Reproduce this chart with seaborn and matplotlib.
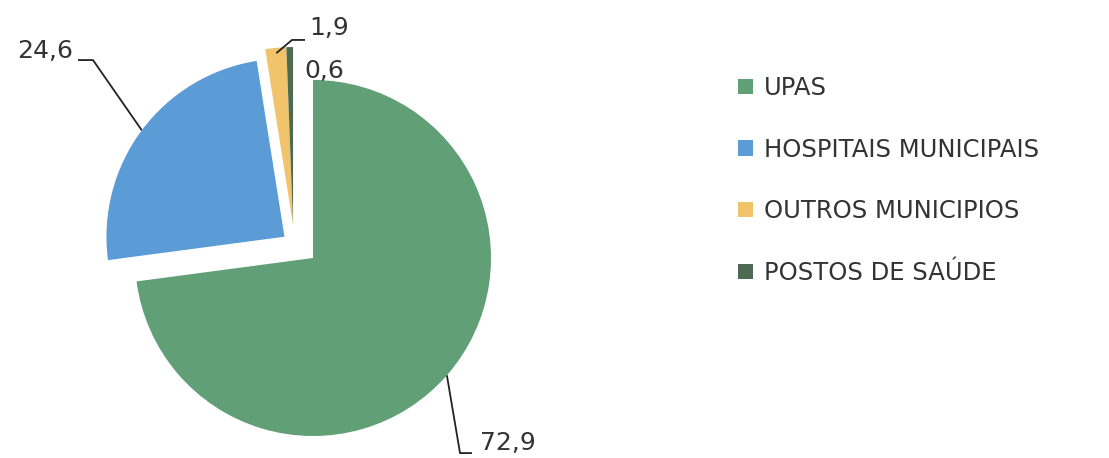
import numpy as np
import matplotlib
matplotlib.use("Agg")
import matplotlib.pyplot as plt
import seaborn as sns

# Share of emergency care by place of attendance (%)
categories = ["UPAS", "HOSPITAIS MUNICIPAIS", "OUTROS MUNICIPIOS", "POSTOS DE SAÚDE"]
shares = [72.9, 24.6, 1.9, 0.6]
value_labels = ["72,9", "24,6", "1,9", "0,6"]

colors = ["#619f76", "#5b9bd6", "#f1c46c", "#4d6a52"]

sns.set_theme(style="white")
plt.rcParams["font.family"] = ["DejaVu Sans"]
text_color = "#333333"

W, H, DPI = 1109, 458, 100
fig = plt.figure(figsize=(W / DPI, H / DPI), dpi=DPI)
ax = fig.add_axes([0, 0, 1, 1])

# pie radius in pixels and where its centre sits (from the left / top)
R_PX = 178
CX_PX, CY_PX = 313, 258

wedges, _ = ax.pie(
    shares,
    colors=colors,
    startangle=90,
    counterclock=False,
    explode=[0, 0.2, 0, 0],
    radius=1.0,
    wedgeprops=dict(linewidth=0),
)

# the two thin slices are pulled out together, up and to the left
pull = np.array([-0.112, 0.185])
for w in wedges[2:]:
    w.set_center(tuple(np.array(w.center) + pull))

ax.set_xlim(-CX_PX / R_PX, (W - CX_PX) / R_PX)
ax.set_ylim(-(H - CY_PX) / R_PX, CY_PX / R_PX)
ax.set_aspect("auto")
ax.axis("off")


def mid_point(w, r=1.0):
    ang = np.deg2rad((w.theta1 + w.theta2) / 2)
    c = np.array(w.center)
    return c + r * np.array([np.cos(ang), np.sin(ang)])


lab_kw = dict(fontsize=18, color=text_color)
lead_kw = dict(color="#222222", lw=1.3, solid_capstyle="butt")

# 72,9
p = mid_point(wedges[0])
ax.plot([p[0], 0.826, 0.893], [p[1], -1.096, -1.096], **lead_kw)
ax.text(0.94, -1.04, value_labels[0], ha="left", va="center", **lab_kw)

# 24,6
p = mid_point(wedges[1])
ax.plot([p[0], -1.236, -1.320], [p[1], 1.112, 1.112], **lead_kw)
ax.text(-1.35, 1.165, value_labels[1], ha="right", va="center", **lab_kw)

# 1,9
p = mid_point(wedges[2], 0.97)
ax.plot([p[0], -0.118, -0.045], [p[1], 1.225, 1.225], **lead_kw)
ax.text(-0.02, 1.29, value_labels[2], ha="left", va="center", **lab_kw)

# 0,6
ax.text(-0.05, 1.05, value_labels[3], ha="left", va="center", **lab_kw)

leg = fig.legend(
    wedges,
    categories,
    loc="upper left",
    bbox_to_anchor=(738 / W, 1 - 76 / H),
    frameon=False,
    fontsize=17.5,
    handlelength=0.6,
    handleheight=0.6,
    handletextpad=0.45,
    labelspacing=1.55,
    borderpad=0,
    borderaxespad=0,
)
for t in leg.get_texts():
    t.set_color(text_color)

fig.savefig("out.png", dpi=DPI, facecolor="white")
